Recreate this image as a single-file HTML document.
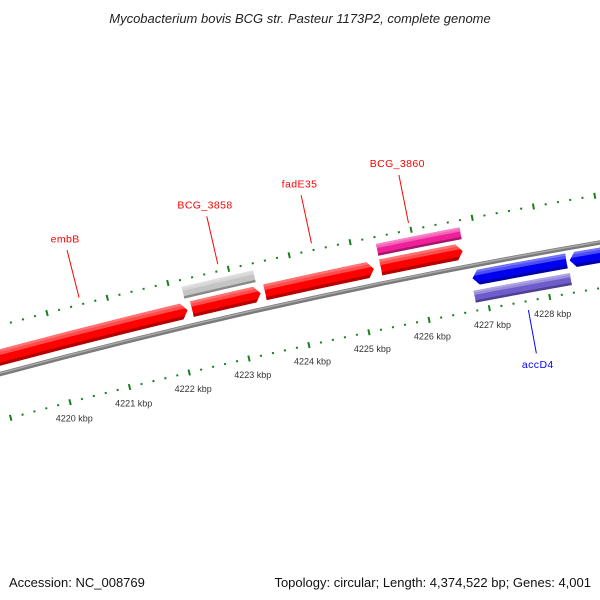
<!DOCTYPE html>
<html><head><meta charset="utf-8"><style>
body{margin:0;background:#fff;}
svg{display:block;font-family:"Liberation Sans","DejaVu Sans",sans-serif;}
</style></head><body>
<svg id="map" width="600" height="600" viewBox="0 0 600 600" xmlns="http://www.w3.org/2000/svg">
<rect width="600" height="600" fill="#fff"/>
<text x="300" y="23" text-anchor="middle" font-size="13" font-style="italic" fill="#222">Mycobacterium bovis BCG str. Pasteur 1173P2, complete genome</text>
<text x="9" y="587" font-size="13" fill="#111">Accession: NC_008769</text>
<text x="591" y="587" text-anchor="end" font-size="13" fill="#111">Topology: circular; Length: 4,374,522 bp; Genes: 4,001</text>
<defs id="defs"></defs>
<g id="rulers"></g>
<g id="backbone"></g>
<g id="features"></g>
<g id="labels"></g>
</svg>
<script>
// data (kbp)
const featureNames = ["embB","BCG_3858","BCG_3858-gray","fadE35","BCG_3860","BCG_3860-pink","accD4","next-reverse","accD4-purple"];
const featureStarts = [4218.9,4222.28,4222.2,4223.49,4225.40,4225.40,4226.82,4228.42,4226.80];
const featureEnds   = [4222.21,4223.42,4223.38,4225.29,4226.75,4226.77,4228.37,4230.5,4228.39];
const featureStrand = [1,1,0,1,1,0,-1,-1,0];
const featureRow    = [0,0,1,0,0,1,2,2,3];
const featureColor  = ["#ff0000","#ff0000","#c4c4c4","#ff0000","#ff0000","#f0209a","#0000f0","#0000f0","#6e5ccc"];
const labelTexts = ["embB","BCG_3858","fadE35","BCG_3860","accD4"];
const labelPos   = [4220.56,4222.85,4224.39,4225.98,4227.62];
const labelInside = [false,false,false,false,true];
const labelColor = ["#ff0000","#ff0000","#ff0000","#ff0000","#0000ff"];
const tickStart = 4218, tickEnd = 4231;
const tickLabels = ["4220 kbp","4221 kbp","4222 kbp","4223 kbp","4224 kbp","4225 kbp","4226 kbp","4227 kbp","4228 kbp"];
const tickLabelKbp = [4220,4221,4222,4223,4224,4225,4226,4227,4228];

const CX=1708.9, CY=6734.5, RB=6586, ROUT=6633, RIN=6541;
const rowR=[[6594,6610],[6614,6626],[6566,6581],[6549,6561]];
const NS="http://www.w3.org/2000/svg";
function ang(k){return (-104.51+(k-4220)*0.5378)*Math.PI/180;}
function P(r,k){const a=ang(k);return [CX+r*Math.cos(a),CY+r*Math.sin(a)];}
function f(p){return p[0].toFixed(2)+" "+p[1].toFixed(2);}
function mk(tag,attrs,parent){const e=document.createElementNS(NS,tag);for(const k in attrs)e.setAttribute(k,attrs[k]);parent.appendChild(e);return e;}
function band(r1,r2,k1,k2){return "M"+f(P(r2,k1))+" A"+r2+" "+r2+" 0 0 1 "+f(P(r2,k2))+" L"+f(P(r1,k2))+" A"+r1+" "+r1+" 0 0 0 "+f(P(r1,k1))+" Z";}
function shape(r1,r2,k1,k2,s){
  const al=0.1, rm=(r1+r2)/2;
  if(s===1){const kb=k2-al;return "M"+f(P(r2,k1))+" A"+r2+" "+r2+" 0 0 1 "+f(P(r2,kb))+" L"+f(P(rm,k2))+" L"+f(P(r1,kb))+" A"+r1+" "+r1+" 0 0 0 "+f(P(r1,k1))+" Z";}
  if(s===-1){const kb=k1+al;return "M"+f(P(r2,kb))+" A"+r2+" "+r2+" 0 0 1 "+f(P(r2,k2))+" L"+f(P(r1,k2))+" A"+r1+" "+r1+" 0 0 0 "+f(P(r1,kb))+" L"+f(P(rm,k1))+" Z";}
  return band(r1,r2,k1,k2);
}
function shade(hex,amt){let n=parseInt(hex.slice(1),16);let r=n>>16,g=(n>>8)&255,b=n&255;
  const t=amt>0?255:0,p=Math.abs(amt);r=Math.round(r+(t-r)*p);g=Math.round(g+(t-g)*p);b=Math.round(b+(t-b)*p);
  return "rgb("+r+","+g+","+b+")";}

const defs=document.getElementById('defs');
const rul=document.getElementById('rulers');
for(let i=0;i<=Math.round((tickEnd-tickStart)*5);i++){
  const k=tickStart+i*0.2, major=(i%5===0);
  [ROUT,RIN].forEach(function(r){
    const h=major?3:1;
    const t=mk('path',{d:"M"+f(P(r-h,k))+" L"+f(P(r+h,k)),stroke:"#17801a","stroke-width":2},rul);
    
    
  });
}
tickLabelKbp.forEach(function(k,i){
  const p=P(RIN-17,k);
  const t=mk('text',{x:p[0].toFixed(1),y:(p[1]+3).toFixed(1),"text-anchor":"middle","font-size":"9",fill:"#333"},rul);
  t.textContent=tickLabels[i];
  
  
});

const bb=document.getElementById('backbone');
const b1=mk('path',{d:"M"+f(P(RB,4217.5))+" A"+RB+" "+RB+" 0 0 1 "+f(P(RB,4231)),stroke:"#7a7a7a","stroke-width":4.5,fill:"none"},bb);


const b2=mk('path',{d:"M"+f(P(RB+0.8,4217.5))+" A"+(RB+0.8)+" "+(RB+0.8)+" 0 0 1 "+f(P(RB+0.8,4231)),stroke:"#a8a8a8","stroke-width":1.5,fill:"none"},bb);



const fg=document.getElementById('features');
featureNames.forEach(function(nm,i){
  const rr=rowR[featureRow[i]], r1=rr[0], r2=rr[1];
  const k1=featureStarts[i], k2=featureEnds[i], col=featureColor[i];
  const d=shape(r1,r2,k1,k2,featureStrand[i]);
  const cp=mk('clipPath',{id:"cp"+i},defs);
  mk('path',{d:d},cp);
  const g=mk('g',{"clip-path":"url(#cp"+i+")"},fg);
  
  
  mk('path',{d:d,fill:col},g);
  const h=r2-r1;
  mk('path',{d:band(r2-h*0.35,r2+1,k1-0.5,k2+0.5),fill:shade(col,0.3)},g);
  mk('path',{d:band(r2-h*0.15,r2+1,k1-0.5,k2+0.5),fill:shade(col,0.45)},g);
  mk('path',{d:band(r1-1,r1+h*0.2,k1-0.5,k2+0.5),fill:shade(col,-0.3)},g);
});

const lg=document.getElementById('labels');
labelTexts.forEach(function(tx,i){
  const k=labelPos[i];
  let a,b,c;
  if(!labelInside[i]){a=P(6640,k);b=P(6689,k);c=P(6697,k);}
  else{a=P(6532,k);b=P(6488,k);c=P(6480,k);}
  const l=mk('path',{d:"M"+f(a)+" L"+f(b),stroke:labelColor[i],"stroke-width":1},lg);
  
  
  const t=mk('text',{x:c[0].toFixed(1),y:(c[1]+(labelInside[i]?7:0)).toFixed(1),"text-anchor":"middle","font-size":"10.5","letter-spacing":"0.4",fill:labelColor[i]},lg);
  t.textContent=tx;
  
  
});
</script>
</body></html>
